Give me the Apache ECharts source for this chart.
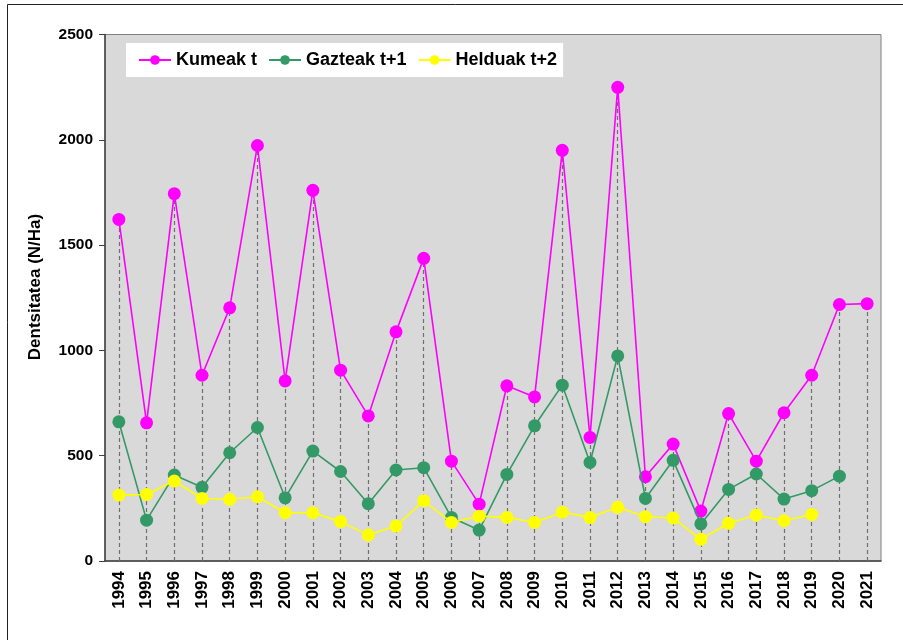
<!DOCTYPE html>
<html>
<head>
<meta charset="utf-8">
<script src="https://cdn.jsdelivr.net/npm/echarts@6/dist/echarts.min.js"></script>
<style>html,body{margin:0;padding:0;background:#fff}#c{width:903px;height:640px}</style>
</head>
<body>
<div id="c"></div>
<script>
const years = ['1994','1995','1996','1997','1998','1999','2000','2001','2002','2003','2004','2005','2006','2007','2008','2009','2010','2011','2012','2013','2014','2015','2016','2017','2018','2019','2020','2021'];
const kumeak = [1622,656,1744,882,1202,1973,855,1760,906,689,1088,1437,474,270,832,779,1950,587,2249,400,555,237,700,474,704,882,1218,1222];
const gazteak = [661,194,408,350,514,634,300,522,425,272,432,443,207,147,411,642,835,468,974,297,478,176,340,413,294,334,403,null];
const helduak = [313,316,380,297,293,305,229,229,187,123,166,286,183,213,207,183,232,206,255,210,204,103,179,218,191,221,null,null];
const yTicks = [0,500,1000,1500,2000,2500];
const yTitle = 'Dentsitatea (N/Ha)';

const dropLines = years.map((y,i)=>{
  const top = Math.max(kumeak[i]||0, gazteak[i]||0, helduak[i]||0);
  return [{coord:[y,0]},{coord:[y,top]}];
});

const font = 'Arial, "Liberation Sans", sans-serif';
const chart = echarts.init(document.getElementById('c'), null, {renderer:'canvas'});
chart.setOption({
  animation:false,
  backgroundColor:'#fff',
  graphic:[
    {type:'rect', shape:{x:7.5,y:4.5,width:1000,height:1000}, style:{fill:'none',stroke:'#222',lineWidth:1}, z:-10},
    {type:'text', x:35, y:287, rotation:Math.PI/2, style:{text:yTitle, fill:'#000', font:'bold 17px '+font, textAlign:'center', textVerticalAlign:'middle'}}
  ],
  grid:{left:105,right:22,top:34.5,bottom:79,show:true,backgroundColor:'#d9d9d9',borderColor:'#808080',borderWidth:1},
  legend:{
    left:126, top:43, orient:'horizontal',
    backgroundColor:'#fff', padding:[8,6,8,12], itemGap:11,
    itemWidth:32, itemHeight:12,
    textStyle:{fontFamily:font,fontWeight:'bold',fontSize:18,color:'#000'},
    data:['Kumeak t','Gazteak t+1','Helduak t+2']
  },
  xAxis:{
    type:'category', data:years, boundaryGap:true,
    axisLine:{lineStyle:{color:'#404040',width:1.5}},
    axisTick:{show:false},
    axisLabel:{rotate:90,fontFamily:font,fontWeight:'bold',fontSize:17,color:'#000',margin:10,interval:0},
    splitLine:{show:false}
  },
  yAxis:{
    type:'value', min:0, max:2500, interval:500,
    axisLine:{show:true,lineStyle:{color:'#404040',width:1.5}},
    axisTick:{show:true,length:6,lineStyle:{color:'#404040'}},
    axisLabel:{fontFamily:font,fontWeight:'bold',fontSize:15.5,color:'#000',margin:12,
      formatter:v=>yTicks.includes(v)?String(v):''},
    splitLine:{show:false}
  },
  series:[
    {name:'Kumeak t', type:'line', data:kumeak, color:'#ff00ff',
     symbol:'circle', symbolSize:13, lineStyle:{width:1.6,color:'#ff00ff'}, itemStyle:{color:'#ff00ff'}, z:3,
     markLine:{silent:true, symbol:['none','none'], label:{show:false}, animation:false,
       lineStyle:{type:[4,3],color:'#707070',width:1.2}, data:dropLines, z:1}},
    {name:'Gazteak t+1', type:'line', data:gazteak, color:'#339966',
     symbol:'circle', symbolSize:13, lineStyle:{width:1.6,color:'#339966'}, itemStyle:{color:'#339966'}, z:4},
    {name:'Helduak t+2', type:'line', data:helduak, color:'#ffff00',
     symbol:'circle', symbolSize:13, lineStyle:{width:1.6,color:'#ffff00'}, itemStyle:{color:'#ffff00'}, z:5}
  ]
});
</script>
</body>
</html>
